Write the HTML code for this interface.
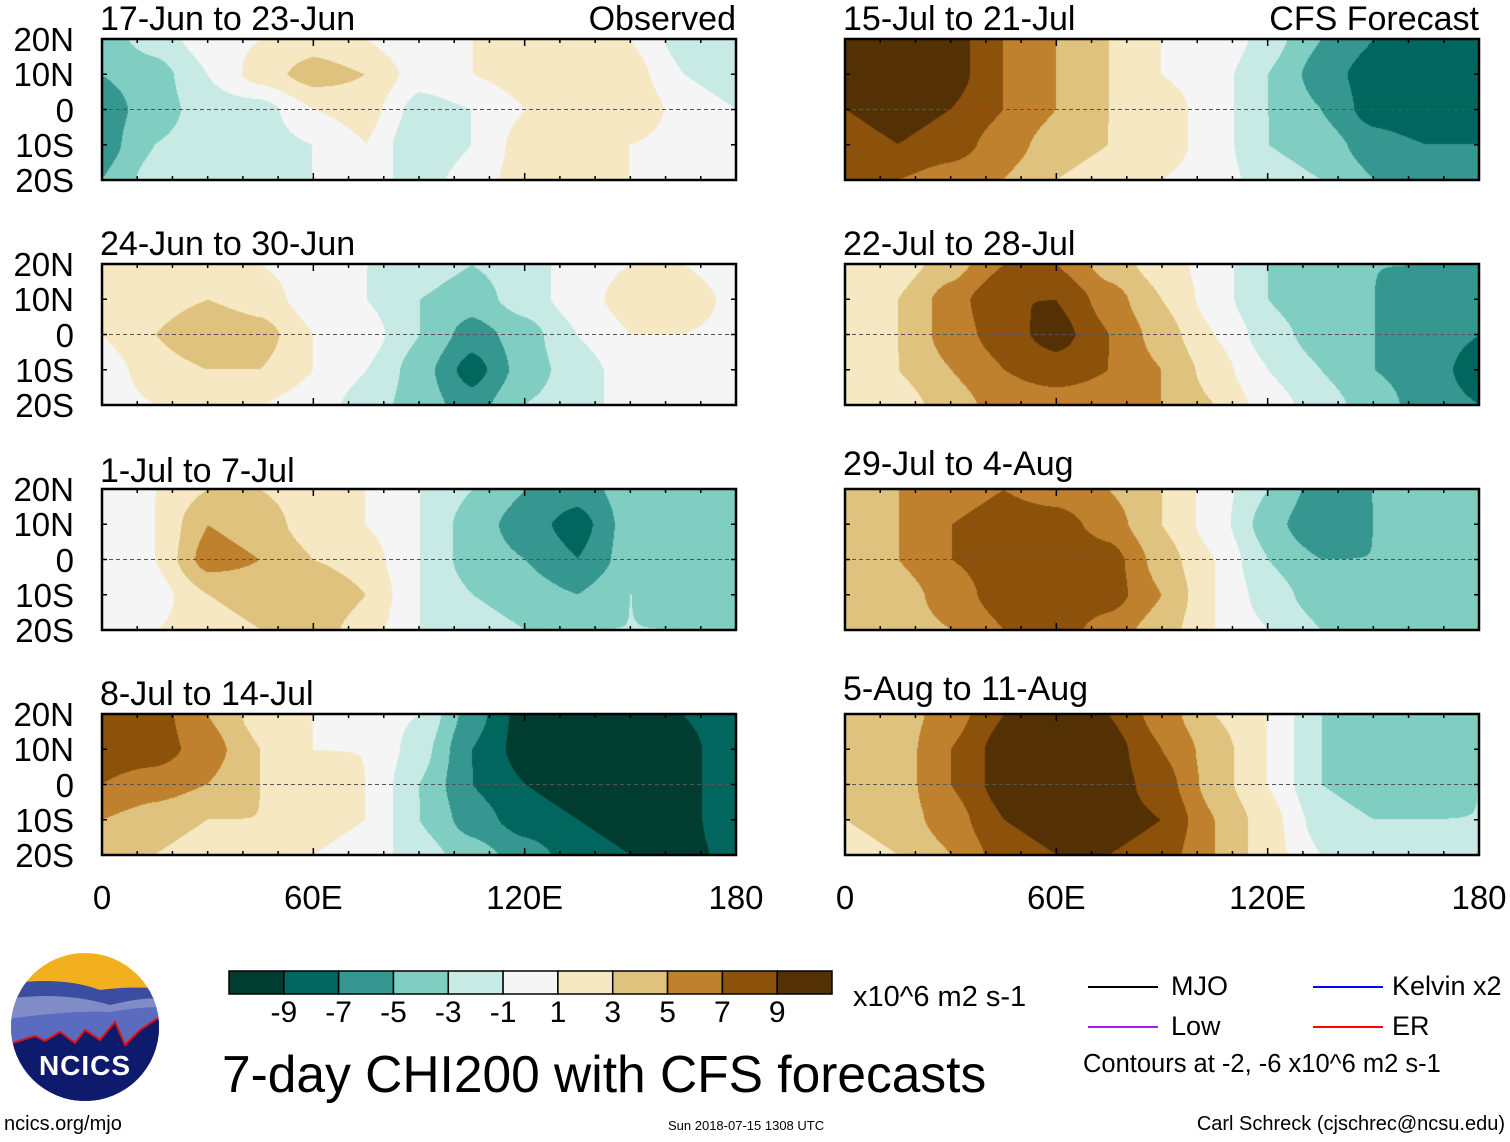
<!DOCTYPE html>
<html><head><meta charset="utf-8"><style>
body{margin:0;background:#fff;font-family:"Liberation Sans",sans-serif;}
#root{position:relative;width:1510px;height:1142px;overflow:hidden;background:#fff}
.t{position:absolute;white-space:nowrap;color:#000;line-height:1;z-index:3}
canvas{position:absolute;z-index:1}
#ov{z-index:2}
</style></head><body>
<div id="root">
<svg id="ov" width="1510" height="1142" style="position:absolute;left:0;top:0"></svg>
</div>
<script>
const levels=[-9,-7,-5,-3,-1,1,3,5,7,9];
const colors=["#003c30","#01665e","#35978f","#80cdc1","#c7eae5","#f5f5f5","#f6e8c3","#dfc27d","#bf812d","#8c510a","#543005"];
const lons=[0,15,30,45,60,75,90,105,120,135,150,165,180];
const lats=[20,10,0,-10,-20];
const titles=["17-Jun to 23-Jun","24-Jun to 30-Jun","1-Jul to 7-Jul","8-Jul to 14-Jul","15-Jul to 21-Jul","22-Jul to 28-Jul","29-Jul to 4-Aug","5-Aug to 11-Aug"];
const field1=[[-4,-2,0,1,2,1,-1,1,2,2,1,-2,-2],[-5,-4,-1,2,4,3,0,1,2,3,2,-1,-2],[-6,-4,-2,-2,1,2,-2,-1,1,3,3,0,-1],[-6,-3,-2,-2,-1,1,-3,-1,2,2,1,0,0],[-5,-2,-1,-2,-1,0,-2,0,2,2,1,0,0]];
const field2=[[1,2,2,1,0,-1,-2,-3,-2,0,1,1,-1],[1,2,3,2,0,-1,-3,-4,-2,0,2,3,0],[1,3,5,4,1,0,-3,-6,-4,-1,1,1,0],[0,2,3,3,1,-1,-4,-8,-4,-2,0,0,1],[0,1,2,1,0,-2,-4,-6,-3,-2,0,1,1]];
const field3=[[0,1,3,3,2,1,-1,-3,-5,-6,-4,-4,-4],[0,1,5,4,2,1,-1,-4,-6,-8,-4,-4,-5],[0,1,6,5,3,2,-1,-4,-5,-7,-4,-4,-5],[-1,0,3,4,5,3,-1,-3,-4,-5,-3,-4,-5],[0,1,2,3,4,2,-1,-2,-3,-3,-3,-3,-4]];
const field4=[[7,8,5,2,1,0,-1,-6,-10,-10,-10,-9,-7],[8,8,6,3,1,1,-2,-7,-10,-10,-10,-10,-7],[7,6,5,3,2,1,-3,-7,-9,-10,-10,-10,-7],[5,4,3,3,2,1,-3,-6,-8,-9,-10,-10,-7],[3,3,2,1,1,0,-2,-4,-6,-8,-9,-10,-8]];
const field5=[[10,10,10,7,5,3,1,1,-2,-5,-7,-8,-7],[10,10,10,7,5,3,1,0,-3,-6,-8,-9,-8],[9,10,9,7,5,3,2,0,-3,-5,-8,-9,-9],[8,9,8,6,4,3,2,0,-3,-4,-6,-7,-7],[7,7,6,5,3,2,1,0,-2,-3,-5,-6,-6]];
const field6=[[2,2,4,7,7,4,2,0,-3,-5,-5,-5,-5],[2,3,6,9,9,6,3,0,-3,-5,-5,-6,-6],[2,3,6,8,10,7,4,1,-2,-4,-5,-6,-7],[2,3,5,7,8,7,5,2,-1,-3,-5,-6,-8],[1,2,4,6,6,6,5,3,0,-2,-4,-6,-7]];
const field7=[[4,5,6,7,6,5,3,0,-3,-6,-5,-4,-5],[4,5,7,8,8,6,3,0,-4,-7,-5,-5,-5],[3,5,7,8,9,8,4,1,-3,-5,-5,-5,-5],[3,4,6,8,9,8,5,1,-2,-4,-5,-5,-5],[3,4,5,7,8,6,4,1,-1,-3,-4,-5,-5]];
const field8=[[3,4,6,9,10,9,6,3,1,-3,-4,-4,-4],[3,4,7,10,10,10,7,4,1,-3,-4,-4,-4],[3,4,7,10,10,10,8,4,1,-3,-4,-4,-3],[3,4,6,9,10,10,9,5,2,-2,-3,-3,-3],[2,3,5,8,9,9,8,5,2,-1,-3,-3,-3]];
const fields=[field1,field2,field3,field4,field5,field6,field7,field8];
const latTicks=["20N","10N","0","10S","20S"];
const lonTicks=["0","60E","120E","180"];
const lonTickVals=[0,60,120,180];
const cbLabels=["-9","-7","-5","-3","-1","1","3","5","7","9"];

const root=document.getElementById('root');
const ov=document.getElementById('ov');
const NS="http://www.w3.org/2000/svg";
const PW=634,PH=141,colX=[102,845],rowY=[39,264,489,714];
function txt(x,y,s,size,anchor,name){
  const e=document.createElement('div');e.className='t';e.textContent=s;e.style.fontSize=size+'px';
  e.style.top=y+'px';
  if(anchor==='r'){e.style.right=(1510-x)+'px';}else if(anchor==='c'){e.style.left=(x)+'px';e.style.transform='translateX(-50%)';}else e.style.left=x+'px';
  
  
  root.appendChild(e);return e;
}
function svgEl(tag,attrs,name){const e=document.createElementNS(NS,tag);for(const k in attrs)e.setAttribute(k,attrs[k]);
  
  
  ov.appendChild(e);return e;}
function hex(c){return [parseInt(c.substr(1,2),16),parseInt(c.substr(3,2),16),parseInt(c.substr(5,2),16)];}
const rgb=colors.map(hex);
function colIdx(v){v+= v<0?0.013:-0.013;let i=0;while(i<levels.length&&v>=levels[i])i++;return i;}
function sample(f,lon,lat){
  const fx=Math.min(179.999,Math.max(0,lon))/15, fy=(20-Math.min(20,Math.max(-19.999,lat)))/10;
  const i0=Math.min(11,Math.floor(fx)),j0=Math.min(3,Math.floor(fy));
  const tx=fx-i0,ty=fy-j0;
  const sx=tx*tx*(3-2*tx)*0.5+tx*0.5, sy=ty*ty*(3-2*ty)*0.5+ty*0.5;
  const a=f[j0][i0],b=f[j0][i0+1],c=f[j0+1][i0],d=f[j0+1][i0+1];
  return a*(1-sx)*(1-sy)+b*sx*(1-sy)+c*(1-sx)*sy+d*sx*sy;
}
fields.forEach((f,p)=>{
  const col=p<4?0:1,row=p%4;
  const x0=colX[col],y0=rowY[row];
  const cv=document.createElement('canvas');cv.width=PW;cv.height=PH;
  cv.style.left=x0+'px';cv.style.top=y0+'px';
  
  
  root.appendChild(cv);
  const ctx=cv.getContext('2d');const im=ctx.createImageData(PW,PH);
  for(let y=0;y<PH;y++)for(let x=0;x<PW;x++){
    const lon=(x+0.37)/PW*180,lat=20-(y+0.37)/PH*40;
    const c=rgb[colIdx(sample(f,lon,lat))];const k=(y*PW+x)*4;
    im.data[k]=c[0];im.data[k+1]=c[1];im.data[k+2]=c[2];im.data[k+3]=255;
  }
  ctx.putImageData(im,0,0);
  svgEl('rect',{x:x0,y:y0,width:PW,height:PH,fill:'none',stroke:'#000','stroke-width':2.5},'panel-frame-'+(p+1));
  svgEl('line',{x1:x0,x2:x0+PW,y1:y0+PH/2,y2:y0+PH/2,stroke:'#555','stroke-width':1,'stroke-dasharray':'4,3'},'equator-line');
  for(let L=0;L<=180;L+=10){const xx=x0+L/180*PW;const len=L%60===0?7:4;
    svgEl('line',{x1:xx,x2:xx,y1:y0,y2:y0+len,stroke:'#000','stroke-width':1.5},'tick');
    svgEl('line',{x1:xx,x2:xx,y1:y0+PH,y2:y0+PH-len,stroke:'#000','stroke-width':1.5},'tick');}
  for(let j=0;j<5;j++){const yy=y0+j*PH/4;
    svgEl('line',{x1:x0,x2:x0+5,y1:yy,y2:yy,stroke:'#000','stroke-width':1.5},'tick');
    svgEl('line',{x1:x0+PW,x2:x0+PW-5,y1:yy,y2:yy,stroke:'#000','stroke-width':1.5},'tick');}
  txt(x0-2,y0-37+(row===2&&col===0?2:0)+(col===1&&row>=2?-5:0),titles[p],34,'l','panel-title-'+(p+1));
  if(col===0) latTicks.forEach((s,j)=>txt(74,y0+j*PH/4-16,s,33,'r','lat-label'));
});
txt(736,2,"Observed",34,'r','observed-label');
txt(1479,2,"CFS Forecast",34,'r','cfs-forecast-label');
[0,1].forEach(col=>lonTickVals.forEach((v,i)=>txt(colX[col]+v/180*PW,881,lonTicks[i],33,'c','lon-label')));
const cbX=229,cbW=603,cbY=971,cbH=23,bw=cbW/11;
colors.forEach((c,i)=>svgEl('rect',{x:cbX+i*bw,y:cbY,width:bw,height:cbH,fill:c,stroke:'#000','stroke-width':1.5},'colorbar-box'));
cbLabels.forEach((s,i)=>txt(cbX+(i+1)*bw,998,s,30,'c','colorbar-label'));
txt(853,983,"x10^6 m2 s-1",29,'l','units-label');
txt(222,1049,"7-day CHI200 with CFS forecasts",51.5,'l','main-title');
txt(668,1119,"Sun 2018-07-15 1308 UTC",13,'l','timestamp');
txt(4,1114,"ncics.org/mjo",20,'l','url-label');
txt(1505,1114,"Carl Schreck (cjschrec@ncsu.edu)",20,'r','author-label');
const leg=[["MJO","#000",1088,1171,987],["Kelvin x2","#0000ff",1313,1392,987],["Low","#a020f0",1088,1171,1027],["ER","#ff0000",1313,1392,1027]];
leg.forEach(l=>{svgEl('line',{x1:l[2],x2:l[2]+70,y1:l[4],y2:l[4],stroke:l[1],'stroke-width':2},'legend-line-'+l[0].split(' ')[0].toLowerCase());
  txt(l[3],l[4]-14,l[0],27,'l','legend-label');});
txt(1083,1052,"Contours at -2, -6 x10^6 m2 s-1",25.5,'l','contour-note');
const defs=document.createElementNS(NS,'defs');defs.innerHTML='<clipPath id="lc"><circle cx="85" cy="1027" r="74"/></clipPath>';ov.appendChild(defs);
const g=svgEl('g',{'clip-path':'url(#lc)'},'ncics-logo');
g.innerHTML='<rect x="0" y="950" width="170" height="160" fill="#f2b01e"/><path d="M0 985 Q60 975 100 990 Q140 985 170 990 L170 1110 L0 1110Z" fill="#3a4da0"/><path d="M0 1000 Q60 990 110 1005 Q150 995 170 1000 L170 1110 L0 1110Z" fill="#7f8cc8"/><path d="M0 1020 Q70 1010 110 1012 Q150 1005 170 1008 L170 1110 L0 1110Z" fill="#5b6cc0"/><path d="M0 1047 L35 1036 L45 1041 L60 1032 L75 1043 L85 1030 L100 1040 L115 1022 L125 1045 L140 1030 L170 1010 L170 1110 L0 1110Z" fill="#0e1a6b" stroke="#e01010" stroke-width="2"/>';
txt(85,1052,"NCICS",28,'c','logo-text').style.cssText+='color:#fff;font-weight:bold;letter-spacing:1px';
</script>
</body></html>
